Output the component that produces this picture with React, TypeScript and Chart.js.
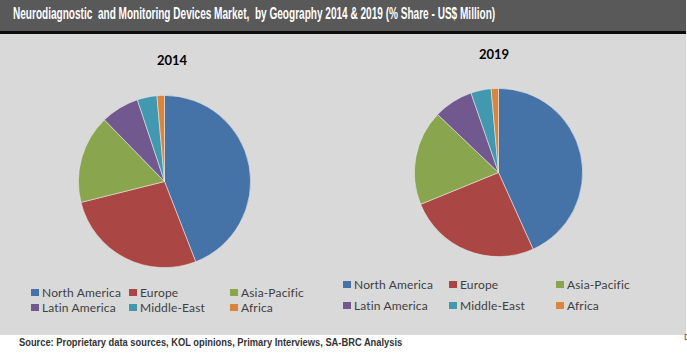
import React, { useEffect, useLayoutEffect, useRef } from "react";
import { Chart, registerables } from "chart.js";

Chart.register(...registerables);

const TITLE = "Neurodiagnostic  and Monitoring Devices Market,  by Geography 2014 & 2019 (% Share - US$ Million)";
const SOURCE = "Source: Proprietary data sources, KOL opinions, Primary Interviews, SA-BRC Analysis";
const regions = ["North America", "Europe", "Asia-Pacific", "Latin America", "Middle-East", "Africa"];
const colors = ["#4572A7", "#AA4643", "#89A54E", "#71588F", "#4198AF", "#DB843D"];
const years = ["2014", "2019"];
const share2014 = [44.1, 27.0, 16.6, 7.2, 3.7, 1.4];
const share2019 = [43.3, 25.6, 18.3, 7.6, 3.9, 1.4];

type PieProps = { values: number[]; size: number; left: number; top: number };

function Pie({ values, size, left, top }: PieProps) {
  const ref = useRef<HTMLCanvasElement>(null);
  useEffect(() => {
    if (!ref.current) return;
    const chart = new Chart(ref.current, {
      type: "pie",
      data: {
        labels: regions,
        datasets: [
          {
            data: values,
            backgroundColor: colors,
            borderColor: "rgba(235,235,235,0.7)",
            borderWidth: 0.8,
          },
        ],
      },
      options: {
        responsive: false,
        animation: false,
        devicePixelRatio: 1,
        layout: { padding: 0 },
        plugins: { legend: { display: false }, tooltip: { enabled: false }, title: { display: false } },
      },
    });
    return () => chart.destroy();
  }, [values]);
  return (
    <canvas
      ref={ref}
      width={size}
      height={size}
      style={{ position: "absolute", left, top, width: size, height: size }}
    />
  );
}

type FitProps = { text: string; width: number; style: React.CSSProperties };

function FitText({ text, width, style }: FitProps) {
  const ref = useRef<HTMLDivElement>(null);
  useLayoutEffect(() => {
    const el = ref.current;
    if (!el) return;
    el.style.transform = "none";
    const w = el.scrollWidth;
    if (w > 0) el.style.transform = `scaleX(${width / w})`;
  }, [text, width]);
  return (
    <div ref={ref} style={{ ...style, position: "absolute", whiteSpace: "pre", transformOrigin: "0 0" }}>
      {text}
    </div>
  );
}

type LegendProps = { left: number; top: number; cols: number[]; rowGap: number };

function Legend({ left, top, cols, rowGap }: LegendProps) {
  return (
    <>
      {regions.map((r, i) => {
        const row = Math.floor(i / 3);
        const col = i % 3;
        return (
          <div
            key={r}
            style={{
              position: "absolute",
              left: left + cols[col],
              top: top + row * rowGap,
              height: 16,
              display: "flex",
              alignItems: "center",
              whiteSpace: "nowrap",
              fontFamily: "Lato, 'Noto Sans', sans-serif",
              fontSize: 12,
              letterSpacing: 0.15,
              color: "#404040",
            }}
          >
            <span style={{ display: "inline-block", width: 8, height: 7, background: colors[i], marginRight: 3 }} />
            {r}
          </div>
        );
      })}
    </>
  );
}

const yearStyle: React.CSSProperties = {
  position: "absolute",
  width: 40,
  textAlign: "center",
  fontFamily: "Lato, sans-serif",
  fontWeight: "bold",
  fontSize: 13,
  lineHeight: "16px",
  color: "#000",
};

export default function App() {
  return (
    <div
      style={{
        position: "fixed",
        left: 0,
        top: 0,
        width: 687,
        height: 356,
        background: "#ffffff",
        overflow: "hidden",
      }}
    >
      <div style={{ position: "absolute", left: 0, top: 0, width: 686, height: 31, background: "#595959" }} />
      <div style={{ position: "absolute", left: 0, top: 31, width: 686, height: 3, background: "#0d0d0d" }} />
      <div style={{ position: "absolute", left: 0, top: 34, width: 686, height: 301, background: "#d9d9d9" }} />
      <FitText
        text={TITLE}
        width={482}
        style={{
          left: 13,
          top: 4,
          color: "#ffffff",
          fontFamily: "'Liberation Sans', Arial, sans-serif",
          fontWeight: "bold",
          fontSize: 16.5,
          lineHeight: "19px",
        }}
      />
      <div style={{ ...yearStyle, left: 152, top: 52 }}>{years[0]}</div>
      <div style={{ ...yearStyle, left: 474, top: 46 }}>{years[1]}</div>
      <Pie values={share2014} size={173} left={78} top={95} />
      <Pie values={share2019} size={169} left={414} top={88} />
      <Legend left={31} top={284} cols={[0, 98, 199]} rowGap={15} />
      <Legend left={343} top={276} cols={[0, 106, 213]} rowGap={21} />
      <FitText
        text={SOURCE}
        width={383}
        style={{
          left: 19,
          top: 337,
          fontFamily: "'Liberation Sans', Arial, sans-serif",
          fontWeight: "bold",
          fontSize: 10,
          lineHeight: "12px",
          color: "#333333",
        }}
      />
      <div
        style={{
          position: "absolute",
          left: 684,
          top: 332,
          fontFamily: "'Liberation Sans', Arial, sans-serif",
          fontSize: 9,
          color: "#555",
        }}
      >
        D
      </div>
    </div>
  );
}
